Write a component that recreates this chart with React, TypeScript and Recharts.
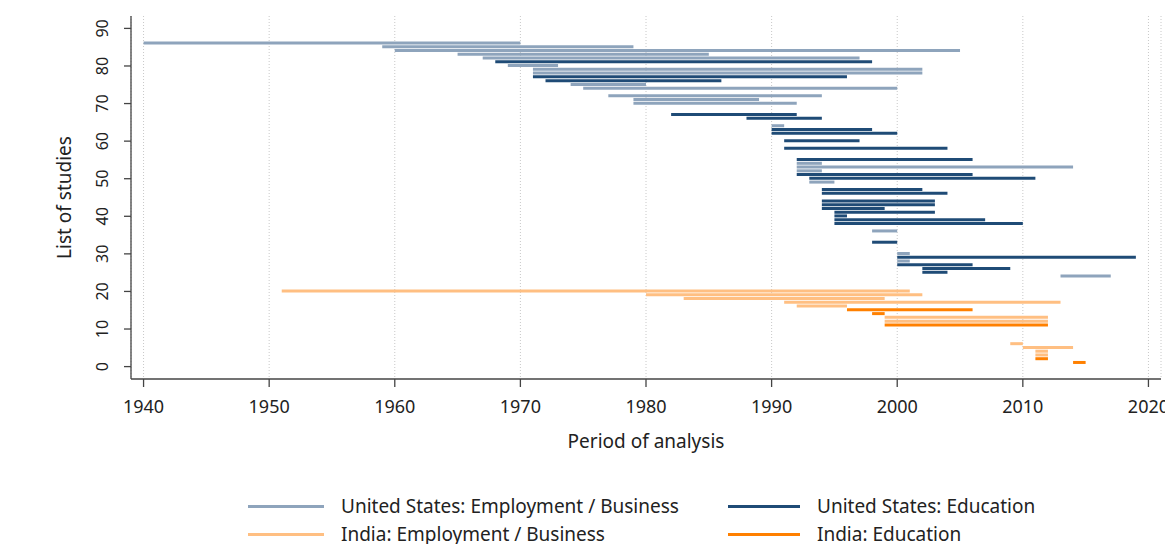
import React from 'react';
import { BarChart, Bar, Cell, XAxis, YAxis, CartesianGrid } from 'recharts';

// each study: [study number, first year, last year]
const usEmployment: [number, number, number][] = [
  [86, 1940, 1970], [85, 1959, 1979], [84, 1960, 2005], [83, 1965, 1985], [82, 1967, 1997],
  [80, 1969, 1973], [79, 1971, 2002], [78, 1971, 2002], [75, 1974, 1980], [74, 1975, 2000],
  [72, 1977, 1994], [71, 1979, 1989], [70, 1979, 1992], [64, 1990, 1991], [54, 1992, 1994],
  [53, 1992, 2014], [52, 1992, 1994], [49, 1993, 1995], [36, 1998, 2000], [30, 2000, 2001],
  [28, 2000, 2001], [24, 2013, 2017],
];

const usEducation: [number, number, number][] = [
  [81, 1968, 1998], [77, 1971, 1996], [76, 1972, 1986], [67, 1982, 1992], [66, 1988, 1994],
  [63, 1990, 1998], [62, 1990, 2000], [60, 1991, 1997], [58, 1991, 2004], [55, 1992, 2006],
  [51, 1992, 2006], [50, 1993, 2011], [47, 1994, 2002], [46, 1994, 2004], [44, 1994, 2003],
  [43, 1994, 2003], [42, 1994, 1999], [41, 1995, 2003], [40, 1995, 1996], [39, 1995, 2007],
  [38, 1995, 2010], [33, 1998, 2000], [29, 2000, 2019], [27, 2000, 2006], [26, 2002, 2009],
  [25, 2002, 2004],
];

const indiaEmployment: [number, number, number][] = [
  [20, 1951, 2001], [19, 1980, 2002], [18, 1983, 1999], [17, 1991, 2013], [16, 1992, 1996],
  [13, 1999, 2012], [12, 1999, 2012], [6, 2009, 2010], [5, 2010, 2014], [4, 2011, 2012],
  [3, 2011, 2012],
];

const indiaEducation: [number, number, number][] = [
  [15, 1996, 2006], [14, 1998, 1999], [11, 1999, 2012], [2, 2011, 2012], [1, 2014, 2015],
];

const groupNames = [
  'United States: Employment / Business',
  'United States: Education',
  'India: Employment / Business',
  'India: Education',
];
const groupColors = ['#8ea4bc', '#1f4b76', '#ffbf82', '#ff8000'];

const yearTicks = [1940, 1950, 1960, 1970, 1980, 1990, 2000, 2010, 2020];
const studyTicks = [0, 10, 20, 30, 40, 50, 60, 70, 80, 90];

const table = [usEmployment, usEducation, indiaEmployment, indiaEducation].flatMap((list, g) =>
  list.map(([study, from, to]) => ({ study, period: [from, to], group: g }))
);

const axisColor = '#444';
const textColor = '#222';

const StudyTick = (props: any) => {
  const { y, payload } = props;
  const bx = 100;
  return (
    <text
      x={bx}
      y={y}
      transform={`rotate(-90, ${bx}, ${y})`}
      textAnchor="middle"
      fontSize={16}
      fill={textColor}
    >
      {payload.value}
    </text>
  );
};

const YTitle = () => (
  <text x={63} y={189.5} transform="rotate(-90, 63, 189.5)" textAnchor="middle" fontSize={19} fill={textColor}>
    List of studies
  </text>
);

const legendRows = [
  [0, 1],
  [2, 3],
];

export default function App() {
  return (
    <div style={{ position: 'relative', width: 1165, height: 536, fontFamily: '"Noto Sans", sans-serif', color: textColor }}>
      <BarChart
        width={1165}
        height={460}
        layout="vertical"
        data={table}
        margin={{ top: 8, right: 12, left: 0, bottom: 0 }}
      >
        <CartesianGrid horizontal={false} stroke="#c8c8c8" strokeDasharray="1 2" />
        <XAxis
          type="number"
          dataKey="period"
          domain={[1939, 2021]}
          allowDataOverflow
          ticks={yearTicks}
          height={89}
          tickSize={8}
          tickMargin={13}
          stroke={axisColor}
          strokeWidth={1.3}
          tick={{ fill: textColor, fontSize: 18 }}
          label={{ value: 'Period of analysis', position: 'insideBottom', offset: 20, fill: textColor, fontSize: 19 }}
        />
        <YAxis
          type="number"
          dataKey="study"
          domain={[-3.3, 93.3]}
          allowDataOverflow
          reversed
          ticks={studyTicks}
          width={123}
          tickSize={7}
          stroke={axisColor}
          strokeWidth={1.3}
          tick={<StudyTick />}
          label={<YTitle />}
        />
        <Bar dataKey="period" barSize={3} isAnimationActive={false}>
          {table.map((d, i) => (
            <Cell key={i} fill={groupColors[d.group]} />
          ))}
        </Bar>
      </BarChart>
      {legendRows.map((row, r) =>
        row.map((g, c) => (
          <div
            key={g}
            style={{
              position: 'absolute',
              left: c === 0 ? 240 : 720,
              top: 484 + r * 28,
              height: 28,
              display: 'flex',
              alignItems: 'center',
              fontSize: 19,
              whiteSpace: 'nowrap',
            }}
          >
            <span
              style={{
                display: 'inline-block',
                width: c === 0 ? 76 : 72,
                height: 3,
                background: groupColors[g],
                marginRight: 17,
              }}
            />
            <span>{groupNames[g]}</span>
          </div>
        ))
      )}
    </div>
  );
}
